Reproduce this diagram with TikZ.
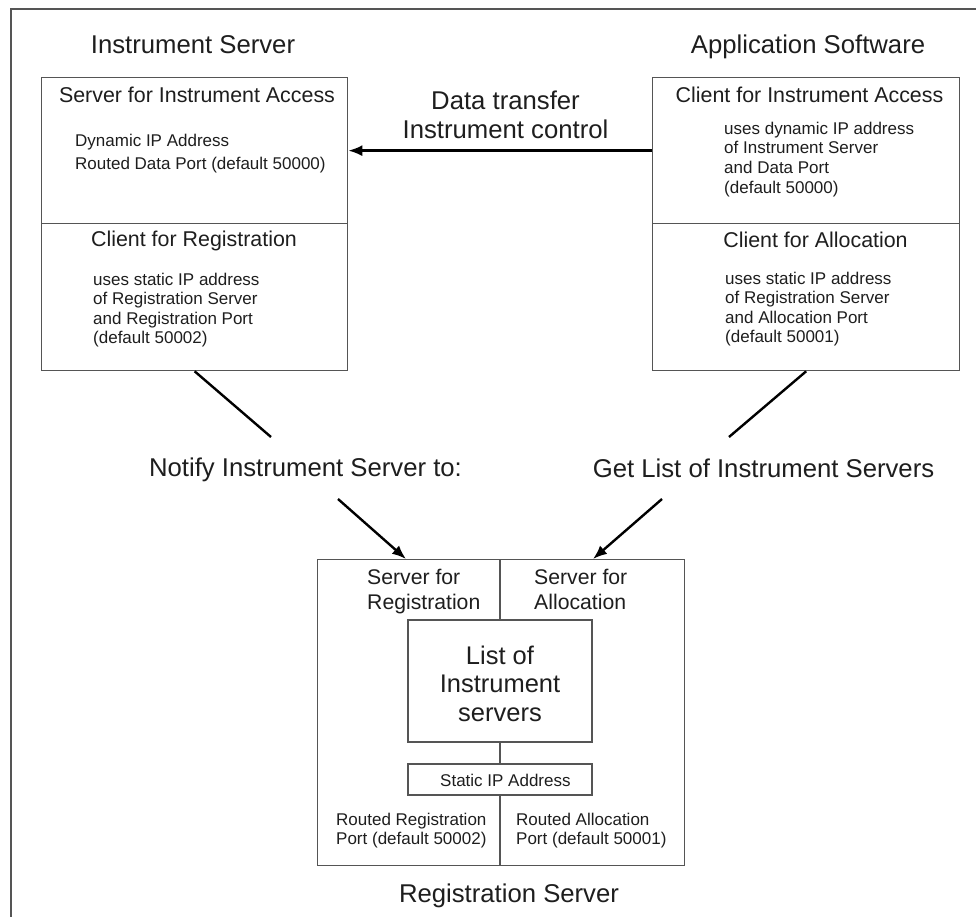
\documentclass[tikz,border=0pt]{standalone}
\usepackage{fontspec}
\setmainfont{Liberation Sans}
\usetikzlibrary{arrows.meta,calc}
\definecolor{boxgray}{HTML}{555555}
\definecolor{txt}{HTML}{1E1E1E}
\tikzset{
  x=1pt, y=-1pt,
  box/.style={draw=boxgray, line width=1.3pt, inner sep=0pt},
  conn/.style={draw=black, line width=2.4pt},
  arr/.style={conn, -{Latex[length=14pt,width=11pt]}},
  txtn/.style={inner sep=0pt, text=txt},
  ftitle/.style={txtn, font=\fontsize{25.7}{29}\selectfont},
  fhead/.style={txtn, font=\fontsize{21.4}{25}\selectfont},
  fbody/.style={txtn, font=\fontsize{17}{19.4}\selectfont, align=left},
}
\begin{document}
\begin{tikzpicture}
\useasboundingbox (0,0) rectangle (976,917);
\fill[white] (0,0) rectangle (976,917);
% outer frame
\coordinate (fbl) at (11,917);
\coordinate (ftl) at (11,9);
\coordinate (ftr) at (976,9);
\draw[draw=boxgray, line width=1.3pt] (fbl) -- (ftl) -- (ftr);

% titles
\node[ftitle, anchor=base] (tIS) at (193,53.3) {Instrument Server};
\node[ftitle, anchor=base] (tAS) at (808,53.3) {Application Software};

% Instrument server boxes
\node[box, anchor=north west, minimum width=306pt, minimum height=146pt] (isTop) at (41,77) {};
\node[box, anchor=north west, minimum width=306pt, minimum height=147pt] (isBot) at (41,223) {};
\node[fhead, anchor=base] (isTopH) at (197,102.7) {Server for Instrument Access};
\node[fbody, anchor=north west, font=\fontsize{17}{23}\selectfont] (isTopB) at (75,133.7) {Dynamic IP Address\\Routed Data Port (default 50000)};
\node[fhead, anchor=base] (isBotH) at (194,246.7) {Client for Registration};
\node[fbody, anchor=north west] (isBotB) at (93,272.7) {uses static IP address\\of Registration Server\\and Registration Port\\(default 50002)};

% Application software boxes
\node[box, anchor=north west, minimum width=307pt, minimum height=146pt] (asTop) at (652,77) {};
\node[box, anchor=north west, minimum width=307pt, minimum height=147pt] (asBot) at (652,223) {};
\node[fhead, anchor=base] (asTopH) at (809.5,102.7) {Client for Instrument Access};
\node[fbody, anchor=north west, font=\fontsize{17}{19.7}\selectfont] (asTopB) at (724,121.7) {uses dynamic IP address\\of Instrument Server\\and Data Port\\(default 50000)};
\node[fhead, anchor=base] (asBotH) at (815.5,247.7) {Client for Allocation};
\node[fbody, anchor=north west] (asBotB) at (725,271.7) {uses static IP address\\of Registration Server\\and Allocation Port\\(default 50001)};

% data transfer arrow
\node[ftitle, anchor=north, align=center] (dt) at (505.5,90.5) {Data transfer\\Instrument control};
\draw[arr] (asTop.west) -- (isTop.east);

% middle labels
\node[ftitle, anchor=base] (notify) at (305.5,476.3) {Notify Instrument Server to:};
\node[ftitle, anchor=base] (getlist) at (763.5,477.3) {Get List of Instrument Servers};
\coordinate (n1) at (271,437);
\coordinate (g1) at (729,437);
\coordinate (n2) at (338,499);
\coordinate (g2) at (662,499);
\draw[conn] (isBot.south) -- (n1);
\draw[conn] (asBot.south) -- (g1);

% registration server
\node[box, anchor=north west, minimum width=367pt, minimum height=306pt] (reg) at (317,559) {};
\node[box, minimum width=184pt, minimum height=122pt] (list) at (500,681) {};
\node[box, minimum width=184pt, minimum height=31pt] (sip) at (500,779.5) {};
\draw[draw=boxgray, line width=1.3pt] (reg.north -| list.north) -- (list.north);
\draw[draw=boxgray, line width=1.3pt] (list.south) -- (sip.north);
\draw[draw=boxgray, line width=1.3pt] (sip.south) -- (sip.south |- reg.south);

\draw[arr] (n2) -- ($(reg.north west)+(89,0)$);
\draw[arr] (g2) -- ($(reg.north west)+(276,0)$);

\node[txtn, anchor=north west, align=left, font=\fontsize{21.2}{25}\selectfont] (sfr) at (367,569.2) {Server for\\Registration};
\node[txtn, anchor=north west, align=left, font=\fontsize{21.2}{25}\selectfont] (sfa) at (534,569.2) {Server for\\Allocation};
\node[txtn, anchor=north, align=center, font=\fontsize{25.5}{28.5}\selectfont] (listT) at (list.north |- 0,645.6) {List of\\Instrument\\servers};
\node[fbody, anchor=base west] (sipT) at (440,786.1) {Static IP Address};
\node[fbody, anchor=north west, font=\fontsize{17}{19}\selectfont] (rrp) at (336,812.7) {Routed Registration\\Port (default 50002)};
\node[fbody, anchor=north west, font=\fontsize{17}{19}\selectfont] (rap) at (516,812.7) {Routed Allocation\\Port (default 50001)};
\node[ftitle, anchor=base] (tRS) at (509,902.3) {Registration Server};
\end{tikzpicture}
\end{document}
